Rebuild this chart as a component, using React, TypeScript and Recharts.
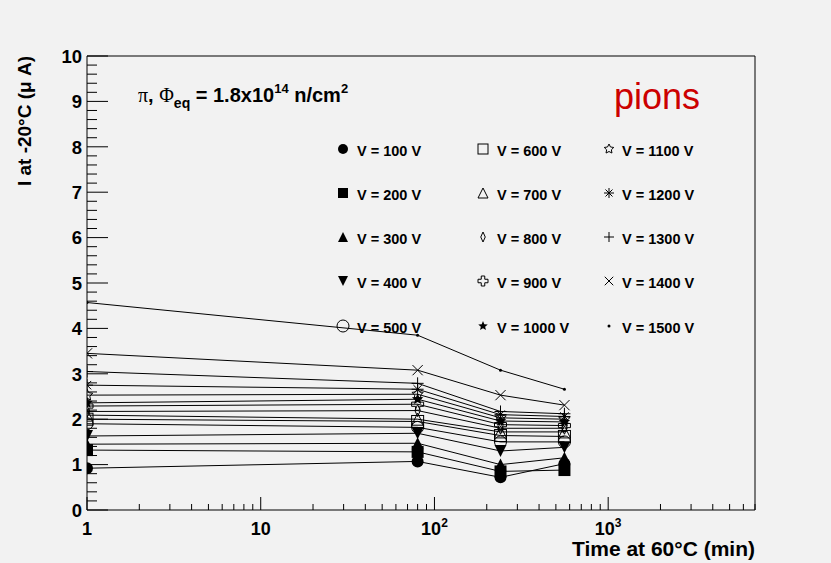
import { LineChart, Line, XAxis, YAxis, Legend } from "recharts";

const SANS = '"Liberation Sans", Arial, Helvetica, sans-serif';
const SERIF = '"Liberation Serif", "Times New Roman", serif';
const BG = "#f2f2f2";

// annealing times (min) and bias voltages
const times = [1, 80, 240, 560];
const voltages = [100, 200, 300, 400, 500, 600, 700, 800, 900, 1000, 1100, 1200, 1300, 1400, 1500];

// current at -20C (uA), one array per voltage
const v100 = [0.92, 1.07, 0.72, 1.02];
const v200 = [1.32, 1.28, 0.85, 0.88];
const v300 = [1.45, 1.47, 1.0, 1.15];
const v400 = [1.63, 1.69, 1.3, 1.38];
const v500 = [1.9, 1.82, 1.5, 1.5];
const v600 = [2.0, 1.95, 1.64, 1.62];
const v700 = [2.09, 2.0, 1.72, 1.72];
const v800 = [2.17, 2.19, 1.8, 1.8];
const v900 = [2.29, 2.33, 1.88, 1.86];
const v1000 = [2.36, 2.44, 1.96, 1.94];
const v1100 = [2.53, 2.55, 2.03, 2.0];
const v1200 = [2.75, 2.66, 2.1, 2.06];
const v1300 = [3.05, 2.79, 2.17, 2.12];
const v1400 = [3.45, 3.08, 2.53, 2.31];
const v1500 = [4.57, 3.85, 3.08, 2.66];

const seriesValues = [v100, v200, v300, v400, v500, v600, v700, v800, v900, v1000, v1100, v1200, v1300, v1400, v1500];

const markerKinds = [
  "circleFilled", "squareFilled", "triUpFilled", "triDownFilled", "circleOpen",
  "squareOpen", "triUpOpen", "diamondOpen", "crossOpen", "starFilled",
  "starOpen", "asterisk", "plus", "cross", "dot",
];

const xMajor = [1, 10, 100, 1000];
const xTicks = [
  1, 2, 3, 4, 5, 6, 7, 8, 9,
  10, 20, 30, 40, 50, 60, 70, 80, 90,
  100, 200, 300, 400, 500, 600, 700, 800, 900,
  1000, 2000, 3000, 4000, 5000, 6000, 7000,
];
const yTicks = Array.from({ length: 51 }, (_, i) => Math.round(i * 2) / 10);

const rows = times.map((t, i) => {
  const r: Record<string, number> = { t };
  voltages.forEach((v, k) => (r[`v${v}`] = seriesValues[k][i]));
  return r;
});

function starPoints(cx: number, cy: number, ro: number, ri: number) {
  const pts: string[] = [];
  for (let i = 0; i < 10; i++) {
    const a = -Math.PI / 2 + (i * Math.PI) / 5;
    const r = i % 2 === 0 ? ro : ri;
    pts.push(`${cx + r * Math.cos(a)},${cy + r * Math.sin(a)}`);
  }
  return pts.join(" ");
}

function marker(kind: string, cx: number, cy: number, s: number, key?: string) {
  const h = s / 2;
  const k = { key };
  const open = { fill: "none", stroke: "#000", strokeWidth: 1 };
  const solid = { fill: "#000", stroke: "none" };
  switch (kind) {
    case "circleFilled":
      return <circle {...k} cx={cx} cy={cy} r={h} {...solid} />;
    case "squareFilled":
      return <rect {...k} x={cx - h} y={cy - h} width={s} height={s} {...solid} />;
    case "triUpFilled":
      return <polygon {...k} points={`${cx},${cy - h} ${cx + h},${cy + h} ${cx - h},${cy + h}`} {...solid} />;
    case "triDownFilled":
      return <polygon {...k} points={`${cx},${cy + h} ${cx + h},${cy - h} ${cx - h},${cy - h}`} {...solid} />;
    case "circleOpen":
      return <circle {...k} cx={cx} cy={cy} r={h} {...open} />;
    case "squareOpen":
      return <rect {...k} x={cx - h} y={cy - h} width={s} height={s} {...open} />;
    case "triUpOpen":
      return <polygon {...k} points={`${cx},${cy - h} ${cx + h},${cy + h} ${cx - h},${cy + h}`} {...open} />;
    case "diamondOpen":
      return <polygon {...k} points={`${cx},${cy - h} ${cx + h * 0.45},${cy} ${cx},${cy + h} ${cx - h * 0.45},${cy}`} {...open} />;
    case "crossOpen": {
      const a = h * 0.35;
      const p = [
        [-a, -h], [a, -h], [a, -a], [h, -a], [h, a], [a, a],
        [a, h], [-a, h], [-a, a], [-h, a], [-h, -a], [-a, -a],
      ].map(([dx, dy]) => `${cx + dx},${cy + dy}`).join(" ");
      return <polygon {...k} points={p} {...open} />;
    }
    case "starFilled":
      return <polygon {...k} points={starPoints(cx, cy, h, h * 0.45)} {...solid} />;
    case "starOpen":
      return <polygon {...k} points={starPoints(cx, cy, h, h * 0.5)} {...open} />;
    case "asterisk": {
      const d = h * 0.7;
      return (
        <g {...k} stroke="#000" strokeWidth={1}>
          <line x1={cx - h} y1={cy} x2={cx + h} y2={cy} />
          <line x1={cx} y1={cy - h} x2={cx} y2={cy + h} />
          <line x1={cx - d} y1={cy - d} x2={cx + d} y2={cy + d} />
          <line x1={cx - d} y1={cy + d} x2={cx + d} y2={cy - d} />
        </g>
      );
    }
    case "plus":
      return (
        <g {...k} stroke="#000" strokeWidth={1}>
          <line x1={cx - h} y1={cy} x2={cx + h} y2={cy} />
          <line x1={cx} y1={cy - h} x2={cx} y2={cy + h} />
        </g>
      );
    case "cross": {
      const d = h * 0.85;
      return (
        <g {...k} stroke="#000" strokeWidth={1}>
          <line x1={cx - d} y1={cy - d} x2={cx + d} y2={cy + d} />
          <line x1={cx - d} y1={cy + d} x2={cx + d} y2={cy - d} />
        </g>
      );
    }
    default:
      return <circle {...k} cx={cx} cy={cy} r={1.5} {...solid} />;
  }
}

function xLabel(v: number) {
  if (v === 1) return <tspan>1</tspan>;
  if (v === 10) return <tspan>10</tspan>;
  const e = Math.round(Math.log10(v));
  return (
    <>
      <tspan>10</tspan>
      <tspan fontSize={12} dy={-8}>{e}</tspan>
    </>
  );
}

function BottomTick(props: any) {
  const { x, y, payload } = props;
  const major = xMajor.includes(payload.value);
  return (
    <g>
      <line x1={x} x2={x} y1={y} y2={y - (major ? 13 : 6)} stroke="#000" />
      {major && (
        <text x={x} y={y + 25} textAnchor="middle" fontFamily={SANS} fontWeight="bold" fontSize={18} fill="#000">
          {xLabel(payload.value)}
        </text>
      )}
    </g>
  );
}

function TopTick(props: any) {
  const { x, y, payload } = props;
  const major = xMajor.includes(payload.value);
  return <line x1={x} x2={x} y1={y} y2={y + (major ? 13 : 6)} stroke="#000" />;
}

function LeftTick(props: any) {
  const { x, y, payload } = props;
  const v = payload.value;
  const major = Math.abs(v - Math.round(v)) < 1e-6;
  return (
    <g>
      <line x1={x} x2={x + (major ? 21 : 10)} y1={y} y2={y} stroke="#000" />
      {major && (
        <text x={x - 5} y={y + 6.7} textAnchor="end" fontFamily={SANS} fontWeight="bold" fontSize={18.5} fill="#000">
          {Math.round(v)}
        </text>
      )}
    </g>
  );
}

function RightTick(props: any) {
  const { x, y, payload } = props;
  const v = payload.value;
  const major = Math.abs(v - Math.round(v)) < 1e-6;
  return <line x1={x} x2={x - (major ? 21 : 10)} y1={y} y2={y} stroke="#000" />;
}

const legendMarkerX = [343, 483, 609];
const legendTextX = [357, 497, 622];
const legendRowY = [151, 195, 239, 283, 328];

function LegendBox() {
  return (
    <svg width={831} height={563} style={{ pointerEvents: "none" }}>
      {voltages.map((v, i) => {
        const col = Math.floor(i / 5);
        const row = i % 5;
        const cy = legendRowY[row];
        return (
          <g key={v}>
            {marker(markerKinds[i], legendMarkerX[col], cy - 2, markerKinds[i] === "circleOpen" ? 12 : 10)}
            <text x={legendTextX[col]} y={cy + 5} fontFamily={SANS} fontWeight="bold" fontSize={14.5} fill="#000">
              {`V = ${v} V`}
            </text>
          </g>
        );
      })}
    </svg>
  );
}

function Annotations() {
  return (
    <svg width={831} height={563} style={{ position: "absolute", left: 0, top: 0, pointerEvents: "none" }}>
      <text x={138} y={102} fontFamily={SANS} fontWeight="bold" fontSize={20} fill="#000">
        <tspan fontFamily={SERIF} fontWeight="normal">π</tspan>
        <tspan>, </tspan>
        <tspan fontFamily={SERIF} fontWeight="normal">Φ</tspan>
        <tspan fontSize={14} dy={6}>eq</tspan>
        <tspan dy={-6}> = 1.8x10</tspan>
        <tspan fontSize={13} dy={-9}>14</tspan>
        <tspan dy={9}> n/cm</tspan>
        <tspan fontSize={13} dy={-9}>2</tspan>
      </text>
      <text x={614} y={109} fontFamily={SANS} fontSize={36} fill="#cc0000">
        pions
      </text>
      <text x={755} y={556} textAnchor="end" fontFamily={SANS} fontWeight="bold" fontSize={21} fill="#000">
        Time at 60°C (min)
      </text>
      <text
        x={31}
        y={56}
        transform="rotate(-90, 31, 56)"
        textAnchor="end"
        fontFamily={SANS}
        fontWeight="bold"
        fontSize={19}
        fill="#000"
      >
        I at -20°C (μ A)
      </text>
    </svg>
  );
}

export default function App() {
  return (
    <div style={{ position: "absolute", left: 0, top: 0, width: 831, height: 563, background: BG }}>
      <LineChart width={831} height={563} data={rows} margin={{ top: 55, right: 75, bottom: 23, left: 47 }}>
        <XAxis
          xAxisId="bottom"
          dataKey="t"
          type="number"
          scale="log"
          domain={[1, 7000]}
          allowDataOverflow
          ticks={xTicks}
          interval={0}
          height={30}
          tickSize={0}
          tickMargin={0}
          tickLine={false}
          axisLine={{ stroke: "#000" }}
          tick={(p: any) => <BottomTick {...p} />}
        />
        <XAxis
          xAxisId="top"
          orientation="top"
          type="number"
          scale="log"
          domain={[1, 7000]}
          allowDataOverflow
          ticks={xTicks}
          interval={0}
          height={1}
          tickSize={0}
          tickMargin={0}
          tickLine={false}
          axisLine={{ stroke: "#000" }}
          tick={(p: any) => <TopTick {...p} />}
        />
        <YAxis
          yAxisId="left"
          type="number"
          domain={[0, 10]}
          ticks={yTicks}
          interval={0}
          width={40}
          tickSize={0}
          tickMargin={0}
          tickLine={false}
          axisLine={{ stroke: "#000" }}
          tick={(p: any) => <LeftTick {...p} />}
        />
        <YAxis
          yAxisId="right"
          orientation="right"
          type="number"
          domain={[0, 10]}
          ticks={yTicks}
          interval={0}
          width={1}
          tickSize={0}
          tickMargin={0}
          tickLine={false}
          axisLine={{ stroke: "#000" }}
          tick={(p: any) => <RightTick {...p} />}
        />
        <Legend
          verticalAlign="middle"
          align="center"
          content={() => <LegendBox />}
          wrapperStyle={{ position: "absolute", left: 0, top: 0, width: 831, height: 563, pointerEvents: "none" }}
        />
        {voltages.map((v, i) => (
          <Line
            key={v}
            xAxisId="bottom"
            yAxisId="left"
            dataKey={`v${v}`}
            name={`V = ${v} V`}
            type="linear"
            stroke="#000"
            strokeWidth={1}
            activeDot={false}
            isAnimationActive={false}
            dot={(p: any) => marker(markerKinds[i], p.cx, p.cy, 12, `m${v}-${p.index}`)}
          />
        ))}
      </LineChart>
      <Annotations />
    </div>
  );
}
